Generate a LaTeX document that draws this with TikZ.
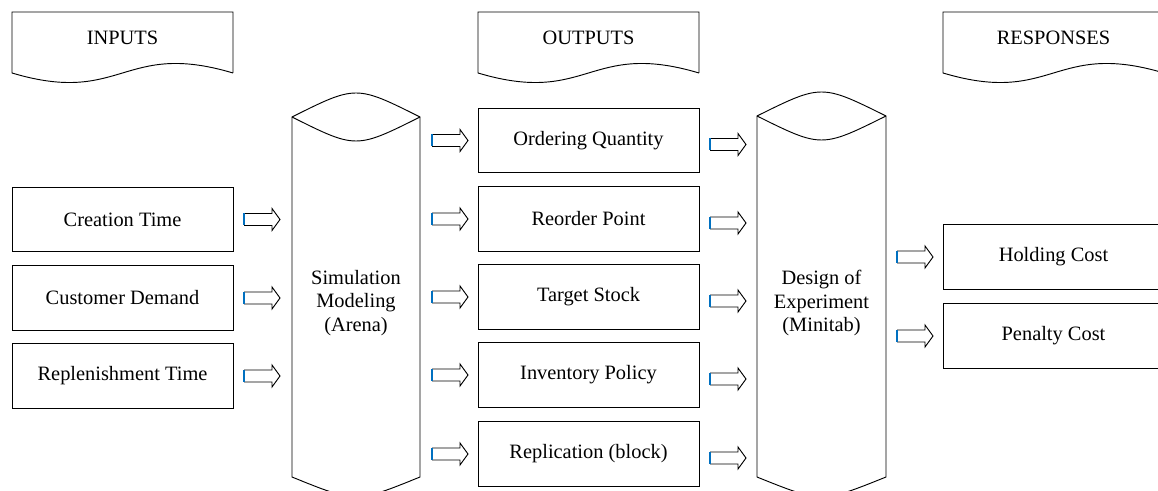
\documentclass[tikz,border=0pt]{standalone}
\usepackage{fontspec}
\setmainfont{Liberation Serif}
\definecolor{arrowblue}{RGB}{0,112,192}
\newcommand\txtfont{\fontsize{15.3}{17.6}\selectfont}
\begin{document}
\begin{tikzpicture}[x=0.75pt,y=-0.75pt,
  ln/.style={line width=0.7pt, draw=black},
  box/.style={ln, rectangle, minimum width=165.75pt, minimum height=48.4pt, inner sep=0pt, outer sep=0pt, font=\txtfont},
  lbl/.style={font=\txtfont, inner sep=0pt, align=center},
  pics/barrow/.style={code={
     \draw[ln, line join=miter] (0,-6) -- (28,-6) -- (28,-11) -- (36,0) -- (28,11) -- (28,6) -- (0,6);
     \draw[line width=0.9pt, draw=arrowblue] (0,-6) -- (0,6);
  }}]
\useasboundingbox (0,0) rectangle (1158,491);
\clip (0,0) rectangle (1158,491);

% banners
\foreach \xa/\xb/\nm/\tx in {12/233/inputs/INPUTS, 478/699/outputs/OUTPUTS, 943/1164/responses/RESPONSES}{
  \pgfmathsetmacro\xm{(\xa+\xb)/2}
  \draw[ln] (\xb,73) -- (\xb,12) -- (\xa,12) -- (\xa,73) .. controls (\xm,106) and (\xm,40) .. (\xb,73);
  \node[lbl] (\nm) at (\xm,38) {\tx};
}

% input boxes
\node[box] (ct) at (122.5,219.5) {Creation Time};
\node[box] (cd) at (122.5,298) {Customer Demand};
\node[box] (rt) at (122.5,376) {Replenishment Time};

% simulation cylinder
\draw[ln] (292,117) .. controls (356,85) .. (420,117) -- (420,477) .. controls (356,503) .. (292,477) -- cycle;
\draw[ln] (292,117) .. controls (356,149) .. (420,117);
\node[lbl] (sim) at (356,303) {Simulation\\Modeling\\(Arena)};

% output boxes
\node[box] (oq) at (588.5,140.5) {Ordering Quantity};
\node[box] (rp) at (588.5,219) {Reorder Point};
\node[box] (ts) at (588.5,297) {Target Stock};
\node[box] (ip) at (588.5,375) {Inventory Policy};
\node[box] (rb) at (588.5,454) {Replication (block)};

% design cylinder
\draw[ln] (757,116) .. controls (821.5,84) .. (886,116) -- (886,477) .. controls (821.5,503) .. (757,477) -- cycle;
\draw[ln] (757,116) .. controls (821.5,148) .. (886,116);
\node[lbl] (doe) at (821.5,303) {Design of\\Experiment\\(Minitab)};

% response boxes
\node[box] (hc) at (1053.5,257) {Holding Cost};
\node[box] (pc) at (1053.5,336) {Penalty Cost};

% block arrows
\foreach \y in {219.5,298,376} {\pic at (244,\y) {barrow};}
\foreach \y in {140.5,219,297,375,454} {\pic at (432,\y) {barrow};}
\foreach \y in {144.5,223,301,379,458} {\pic at (710,\y) {barrow};}
\foreach \y in {257,336} {\pic at (897,\y) {barrow};}
\end{tikzpicture}
\end{document}
